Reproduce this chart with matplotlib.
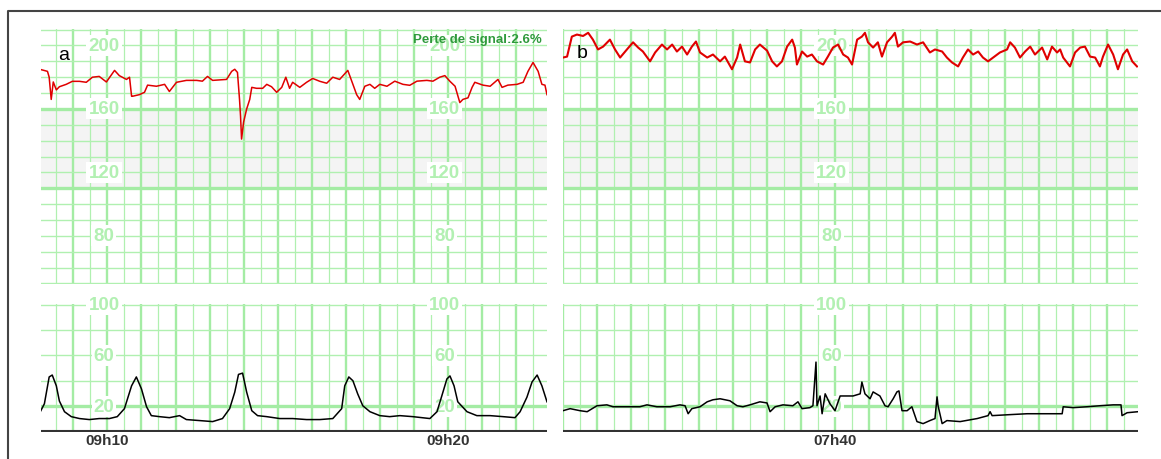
import matplotlib.pyplot as plt
from matplotlib.lines import Line2D
import numpy as np

plt.rcParams['font.family'] = ['Liberation Sans', 'DejaVu Sans']

# ---- panel a : minutes counted from 09h10 ----
fhr_a_t = [-1.97, -1.76, -1.71, -1.65, -1.59, -1.50, -1.41, -1.21, -1.03, -0.82,
           -0.62, -0.44, -0.24, -0.03, 0.21, 0.35, 0.56, 0.65, 0.71, 0.74,
           0.94, 1.09, 1.18, 1.44, 1.68, 1.82, 2.03, 2.32, 2.62, 2.79,
           2.94, 3.09, 3.50, 3.65, 3.74, 3.82, 3.88, 3.91, 3.94, 4.00,
           4.09, 4.18, 4.24, 4.38, 4.56, 4.68, 4.82, 4.97, 5.12, 5.24,
           5.35, 5.44, 5.65, 5.85, 6.03, 6.24, 6.44, 6.62, 6.82, 7.06,
           7.21, 7.32, 7.41, 7.56, 7.71, 7.85, 8.00, 8.21, 8.44, 8.68,
           8.88, 9.09, 9.38, 9.56, 9.76, 9.91, 10.06, 10.21, 10.35, 10.44,
           10.59, 10.71, 10.79, 11.03, 11.24, 11.47, 11.59, 11.76, 12.03, 12.21,
           12.35, 12.50, 12.65, 12.76, 12.85, 12.91]
fhr_a = [184.9, 183.7, 180, 166, 177, 172, 174, 175.5, 177.4, 177.4,
         176.8, 180, 180.5, 177, 184.3, 181, 178.6, 180, 168, 168,
         169, 170.5, 175, 174.3, 175.5, 171, 176.8, 178, 178, 177.5,
         180.5, 178, 178.6, 183.7, 185, 183, 166, 155.5, 141, 151.7,
         160, 166, 173.6, 173, 173, 175.5, 174, 170.5, 173.6, 180,
         173, 176.8, 173.6, 176.8, 179.2, 177.4, 176.2, 180, 178.6, 184.3,
         175.5, 169, 166, 174.3, 175.5, 173, 175.5, 174.3, 177.5, 175.5,
         174.9, 177.5, 178, 177.5, 180, 181, 177.4, 174.3, 164, 166,
         167, 173.6, 176.8, 175, 174.3, 178.6, 173.6, 175, 175.5, 176.8,
         183.7, 189.3, 183.7, 175.5, 175, 169]

ua_a_t = [-1.97, -1.85, -1.71, -1.62, -1.50, -1.41, -1.26, -1.06, -0.82, -0.53,
          -0.24, 0.06, 0.29, 0.50, 0.71, 0.85, 1.00, 1.15, 1.29, 1.53,
          1.82, 2.12, 2.32, 2.71, 3.09, 3.38, 3.59, 3.74, 3.85, 3.97,
          4.09, 4.24, 4.41, 4.68, 5.06, 5.44, 5.85, 6.24, 6.62, 6.88,
          6.97, 7.09, 7.21, 7.35, 7.50, 7.71, 8.00, 8.29, 8.59, 8.97,
          9.47, 9.68, 9.82, 9.97, 10.06, 10.18, 10.29, 10.56, 10.85, 11.24,
          11.62, 11.97, 12.12, 12.32, 12.47, 12.62, 12.76, 12.91]
ua_a = [15.6, 21.9, 43, 44.5, 36, 24, 15.6, 11.7, 10.2, 9.4,
        10.2, 10.2, 11.7, 18, 36, 43, 33.6, 19.5, 12.5, 11.7,
        10.9, 12.5, 9.4, 8.6, 7.8, 10.2, 18, 31, 45, 46,
        31, 16.4, 12.5, 11.7, 10.2, 10.2, 9.4, 9.4, 10.2, 18,
        36, 43, 40, 29.7, 20.3, 15.6, 12.5, 11.7, 12.5, 11.7,
        10.2, 15.6, 28, 41.4, 43.8, 36, 23.4, 15.6, 12.5, 12.5,
        11.7, 10.9, 15.6, 27, 39, 44.5, 36, 23.4]

# ---- panel b : minutes counted from 07h32 ----
fhr_b_t = [0.00, 0.12, 0.26, 0.41, 0.59, 0.74, 0.88, 1.03, 1.18, 1.38,
           1.53, 1.68, 1.88, 2.06, 2.21, 2.35, 2.56, 2.71, 2.91, 3.06,
           3.21, 3.35, 3.50, 3.65, 3.79, 3.91, 4.03, 4.24, 4.41, 4.62,
           4.76, 4.97, 5.12, 5.21, 5.35, 5.50, 5.65, 5.79, 6.00, 6.15,
           6.29, 6.44, 6.59, 6.74, 6.82, 6.88, 7.03, 7.18, 7.32, 7.47,
           7.65, 7.79, 7.94, 8.09, 8.24, 8.38, 8.50, 8.65, 8.79, 8.88,
           8.97, 9.12, 9.26, 9.38, 9.53, 9.68, 9.76, 9.85, 10.00, 10.21,
           10.41, 10.59, 10.79, 10.94, 11.15, 11.29, 11.44, 11.62, 11.76, 11.91,
           12.06, 12.21, 12.35, 12.50, 12.65, 12.85, 13.06, 13.15, 13.29, 13.44,
           13.59, 13.74, 13.88, 14.09, 14.24, 14.38, 14.53, 14.62, 14.71, 14.91,
           15.06, 15.21, 15.35, 15.50, 15.65, 15.79, 15.88, 16.03, 16.18, 16.32,
           16.47, 16.59, 16.74, 16.88]
fhr_b = [192.4, 193, 205.6, 206.9, 206, 208, 203.7, 197.5, 199.3, 203.7,
         197.5, 192.4, 197.5, 202, 198.7, 196.2, 190, 195.6, 200.6, 197.5,
         200.6, 196.2, 199.3, 194.3, 199.3, 202.5, 195.6, 192.4, 194.3, 190,
         193, 185, 192.4, 200.6, 190, 189.3, 197.5, 200.6, 196.8, 190,
         186.8, 190, 199.3, 203.7, 198.7, 188, 196.2, 193, 194.3, 190,
         188, 193, 198.7, 200.6, 194.3, 192.4, 188, 203.7, 205.6, 208,
         202, 198.7, 202, 193, 202, 205.6, 208, 199.3, 202, 202.5,
         200.6, 202, 195.6, 197.5, 196.2, 192.4, 189.3, 186.8, 192.4, 197.5,
         194.3, 196.2, 192.4, 190, 192.4, 195.6, 197.5, 202, 198.7, 192.4,
         196.2, 199.3, 194.3, 198.7, 191.2, 199.3, 195.6, 197.5, 192.4, 186.8,
         195.6, 198.7, 199.3, 193, 192.4, 186.8, 193, 200.6, 194.3, 185,
         194.3, 197.5, 190, 186.8]

ua_b_t = [0.00, 0.21, 0.50, 0.71, 1.00, 1.29, 1.47, 1.88, 2.26, 2.47,
          2.76, 3.15, 3.44, 3.59, 3.68, 3.79, 4.03, 4.24, 4.41, 4.62,
          4.91, 5.12, 5.29, 5.50, 5.79, 6.00, 6.09, 6.24, 6.47, 6.76,
          6.91, 7.03, 7.26, 7.35, 7.44, 7.47, 7.56, 7.62, 7.71, 7.85,
          8.00, 8.15, 8.35, 8.53, 8.74, 8.79, 8.88, 9.03, 9.12, 9.32,
          9.47, 9.56, 9.71, 9.82, 9.88, 9.97, 10.12, 10.26, 10.41, 10.59,
          10.79, 10.94, 11.00, 11.03, 11.15, 11.29, 11.68, 12.18, 12.50, 12.56,
          12.62, 13.15, 13.65, 14.24, 14.68, 14.71, 15.00, 15.41, 15.79, 16.18,
          16.41, 16.44, 16.59, 16.91]
ua_b = [16.4, 18, 16.4, 15.6, 20.3, 21, 19.5, 19.5, 19.5, 21,
        19.5, 19.5, 21, 20.3, 14, 18, 19.5, 23.4, 25, 25.8,
        24.2, 20.3, 19.5, 21, 23.4, 22.5, 15.6, 19.5, 21, 20.3,
        23.4, 18, 18.8, 20.3, 54.7, 20.3, 28, 14, 29.7, 21.9,
        16.4, 28, 28, 28, 29.7, 39, 29.7, 25.8, 31.2, 28,
        20.3, 19.5, 25.8, 31.2, 32, 16.4, 16.4, 19.5, 7.8, 6.2,
        8.6, 10.2, 27.3, 20.3, 6.2, 8.6, 7.8, 10.2, 12.5, 15.6,
        12.5, 13.3, 14, 14, 14, 19.5, 18.8, 19.5, 20.3, 21,
        21, 12.5, 14.8, 15.6]

time_ticks_a = [0, 10]
time_labels_a = ['09h10', '09h20']
time_ticks_b = [8]
time_labels_b = ['07h40']
fhr_marks = [200, 160, 120, 80]
ua_marks = [100, 60, 20]
signal_loss = 2.6

GRID = '#b0f0b0'
GRID_THICK = '#a4eca4'
LABEL = '#b2f0b2'
W, H = 1161, 460


def box(x0, y0, x1, y1):
    # pixel box -> figure fraction
    return [x0 / W, 1 - y1 / H, (x1 - x0) / W, (y1 - y0) / H]


def paper(ax, xlim, hlines, thick_h):
    x0, x1 = xlim
    for m in np.arange(np.ceil(x0 * 2) / 2, x1 + 0.01, 0.5):
        if float(m).is_integer():
            ax.axvline(m, color=GRID_THICK, lw=1.7, zorder=1)
        else:
            ax.axvline(m, color=GRID, lw=0.9, zorder=1)
    for v in hlines:
        if v in thick_h:
            ax.axhline(v, color=GRID_THICK, lw=2.4, zorder=1)
        else:
            ax.axhline(v, color=GRID, lw=1.0, zorder=1)
    ax.set_xlim(x0, x1)
    ax.set_xticks([])
    ax.set_yticks([])
    for s in ax.spines.values():
        s.set_visible(False)


def marks(ax, cols, values):
    for c in cols:
        for v in values:
            ax.text(c - 0.1, v, str(v), ha='center', va='center', color=LABEL,
                    fontsize=13.5, fontweight='bold', zorder=2,
                    bbox=dict(facecolor='white', edgecolor='none', pad=1.5))


fig = plt.figure(figsize=(11.61, 4.6), dpi=100)

panels = [
    (41, 547, (-1.95, 12.91), fhr_a_t, fhr_a, ua_a_t, ua_a, time_ticks_a, time_labels_a, 1.1),
    (563, 1138, (0, 16.91), fhr_b_t, fhr_b, ua_b_t, ua_b, time_ticks_b, time_labels_b, 1.5),
]

for px0, px1, xlim, ft, fv, ut, uv, tt, tl, lw in panels:
    # heart rate
    ax = fig.add_axes(box(px0, 30, px1, 285))
    ax.axhspan(110, 160, color='#f4f4f4', zorder=0)
    paper(ax, xlim, range(50, 211, 10), (110, 160))
    marks(ax, tt, fhr_marks)
    ax.plot(ft, fv, color='#e00000', lw=lw, zorder=3)
    ax.set_ylim(49.6, 210.4)

    # contractions
    ax2 = fig.add_axes(box(px0, 305, px1, 433))
    paper(ax2, xlim, range(20, 101, 20), (20,))
    ax2.axhline(0, color='#333333', lw=1.5, zorder=3)
    marks(ax2, tt, ua_marks)
    ax2.plot(ut, uv, color='black', lw=1.1, zorder=3)
    ax2.set_ylim(-0.4, 100.5)
    for t, lab in zip(tt, tl):
        ax2.text(t, -0.065, lab, transform=ax2.get_xaxis_transform(),
                 ha='center', va='center', fontsize=11, fontweight='bold',
                 color='#333333')

fig.text(64 / W, 1 - 55 / H, 'a', fontsize=14, ha='center', va='center')
fig.text(582 / W, 1 - 53 / H, 'b', fontsize=14, ha='center', va='center')
fig.text(542 / W, 1 - 40 / H, f'Perte de signal:{signal_loss}%', ha='right',
         va='center', fontsize=9.5, fontweight='bold', color='#2f9a3c')

# outer frame (top and left edges only)
fig.add_artist(Line2D([8 / W, 8 / W, 1], [0, 1 - 12 / H, 1 - 12 / H],
                      transform=fig.transFigure, color='#444444', lw=1.5))

fig.savefig('out.png', dpi=100)
